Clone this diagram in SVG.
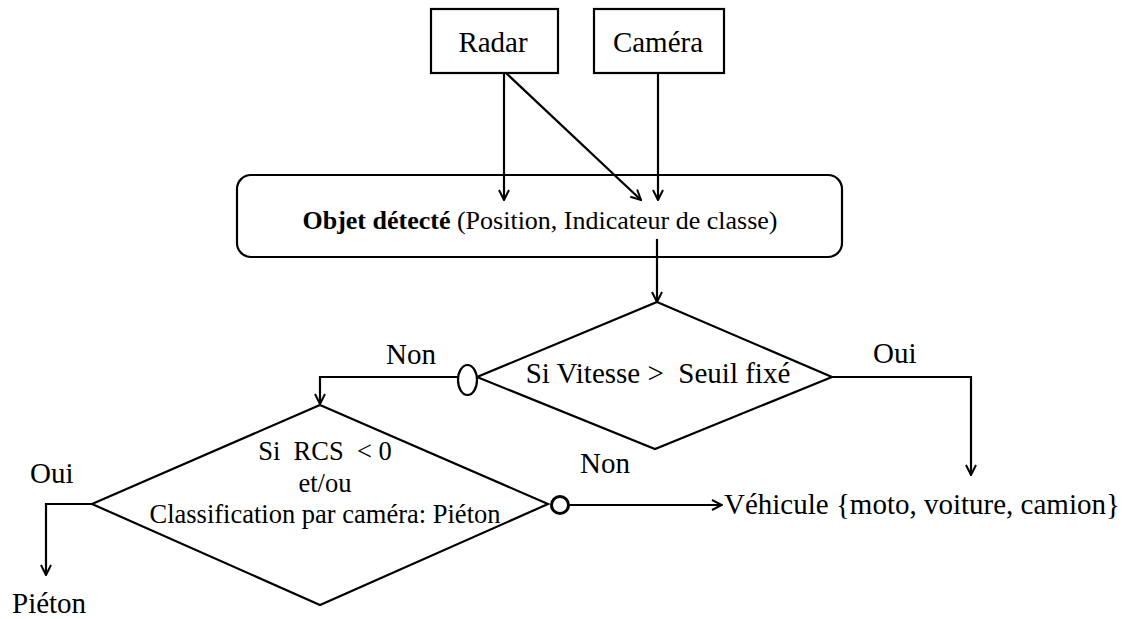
<svg xmlns="http://www.w3.org/2000/svg" width="1132" height="619" viewBox="0 0 1132 619">
<style>
.shape{fill:#fff;stroke:#000;stroke-width:2.2}
.line{fill:none;stroke:#000;stroke-width:2.2}
text{font-family:"Liberation Serif","Times New Roman",serif;fill:#000;white-space:pre}
.t29{font-size:29px}
.t26{font-size:26.5px}
</style>
<defs>
<marker id="arr" viewBox="0 0 12 12" refX="11" refY="6" markerWidth="12" markerHeight="12" markerUnits="userSpaceOnUse" orient="auto">
<path d="M1,1 L11,6 L1,11" fill="none" stroke="#000" stroke-width="2"/>
</marker>
</defs>
<rect width="1132" height="619" fill="#fff"/>
<g id="radar">
<rect class="shape" x="431" y="9" width="127" height="64"/>
<text class="t29" x="493" y="52" text-anchor="middle">Radar</text>
</g>
<g id="camera">
<rect class="shape" x="594" y="9" width="130" height="64"/>
<text class="t29" x="658" y="52" text-anchor="middle">Caméra</text>
</g>
<g id="objet">
<rect class="shape" x="237" y="175" width="605" height="82" rx="14" ry="14"/>
<text x="540" y="229" text-anchor="middle" style="font-size:26px"><tspan font-weight="bold">Objet détecté</tspan> (Position, Indicateur de classe)</text>
</g>
<g id="vitesse">
<polygon class="shape" points="657,302 832,377 655,449 477,377"/>
<text class="t29" x="658" y="383" text-anchor="middle">Si Vitesse &gt;  Seuil fixé</text>
</g>
<g id="rcs">
<polygon class="shape" points="320,405 548,504 320,605 92,504"/>
<text class="t26" x="325" y="460" text-anchor="middle">Si  RCS  &lt; 0</text>
<text class="t26" x="325" y="492" text-anchor="middle">et/ou</text>
<text class="t26" x="325" y="523" text-anchor="middle">Classification par caméra: Piéton</text>
</g>
<g id="vehicule">
<text class="t29" x="724" y="514">Véhicule {moto, voiture, camion}</text>
</g>
<g id="pieton">
<text class="t29" x="12" y="613">Piéton</text>
</g>
<g id="connectors">
<line class="line" x1="504" y1="73" x2="504" y2="200" marker-end="url(#arr)"/>
<line class="line" x1="506" y1="73" x2="641" y2="200" marker-end="url(#arr)"/>
<line class="line" x1="658" y1="73" x2="658" y2="200" marker-end="url(#arr)"/>
<line class="line" x1="657" y1="239" x2="657" y2="302" marker-end="url(#arr)"/>
<polyline class="line" points="458,377 320,377 320,404" marker-end="url(#arr)"/>
<polyline class="line" points="832,377 971,377 971,475" marker-end="url(#arr)"/>
<polyline class="line" points="92,504 46,504 46,575" marker-end="url(#arr)"/>
<line class="line" x1="569" y1="505" x2="722" y2="505" marker-end="url(#arr)"/>
<ellipse class="shape" cx="467.5" cy="380" rx="9.5" ry="15"/>
<circle class="shape" cx="560" cy="505" r="8.5" style="stroke-width:3"/>
<text class="t29" x="386" y="364">Non</text>
<text class="t29" x="873" y="363">Oui</text>
<text class="t29" x="580" y="473">Non</text>
<text class="t29" x="30" y="483">Oui</text>
</g>
</svg>
